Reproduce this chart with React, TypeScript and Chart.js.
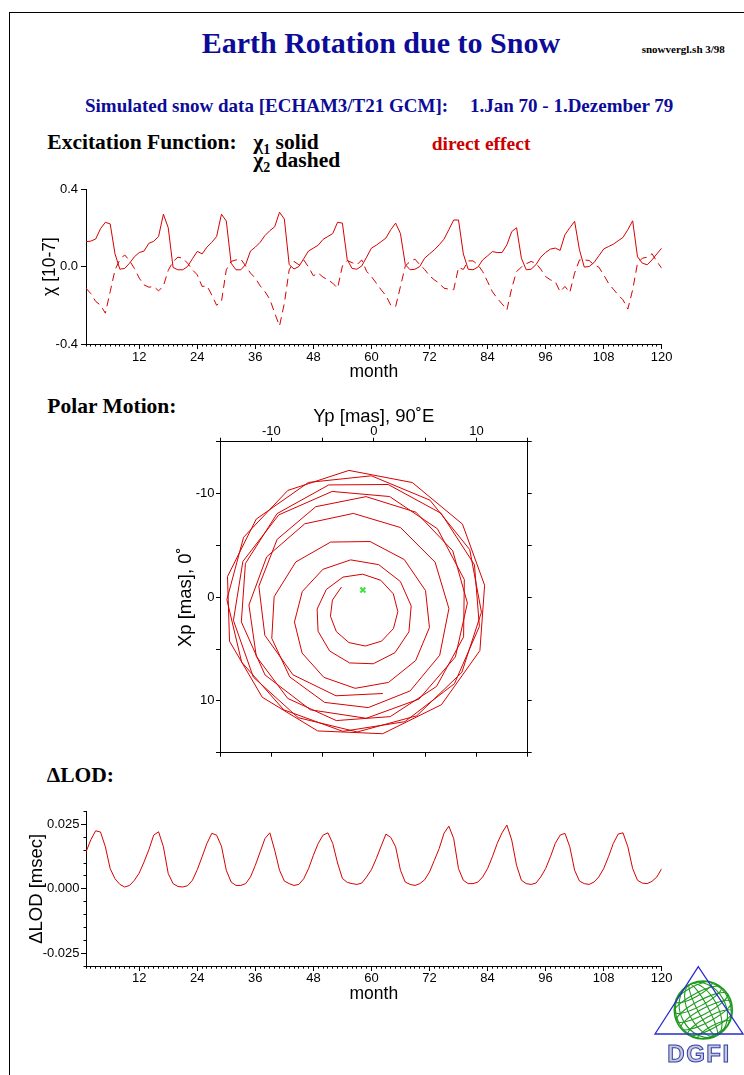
import React, { useEffect, useRef } from 'react';
import { Chart, registerables } from 'chart.js';

Chart.register(...registerables);

const FONT_SANS = "'Liberation Sans', Arial, Helvetica, sans-serif";
const FONT_SERIF = "'Liberation Serif', 'Times New Roman', Times, serif";
const RED = 'rgb(214,0,0)';
const NAVY = '#0c0c98';

// ---------- data ----------
const months = Array.from({ length: 120 }, (_, i) => i + 1);
const monthLabelTicks = [12, 24, 36, 48, 60, 72, 84, 96, 108, 120];
const chiLabelTicks = [-0.4, 0, 0.4];
const lodLabelTicks = [-0.025, 0, 0.025];
const polarLabelTicks = [-10, 0, 10];

// chi1 (solid), 10^-7
const chi1 = [
  0.128, 0.131, 0.142, 0.195, 0.228, 0.220, 0.065, -0.014, -0.010, 0.017, 0.050, 0.072,
  0.080, 0.120, 0.130, 0.155, 0.270, 0.200, -0.005, -0.017, -0.017, 0.000, 0.040, 0.078,
  0.065, 0.100, 0.125, 0.155, 0.270, 0.235, 0.017, -0.017, -0.017, 0.010, 0.080, 0.100,
  0.125, 0.160, 0.185, 0.205, 0.280, 0.245, 0.010, -0.013, 0.000, 0.040, 0.080, 0.095,
  0.110, 0.140, 0.155, 0.170, 0.228, 0.224, 0.035, -0.010, -0.014, 0.003, 0.048, 0.095,
  0.110, 0.128, 0.147, 0.190, 0.224, 0.170, 0.010, -0.017, -0.014, 0.000, 0.043, 0.065,
  0.086, 0.112, 0.141, 0.190, 0.240, 0.240, 0.065, -0.014, -0.017, -0.003, 0.034, 0.055,
  0.077, 0.072, 0.072, 0.112, 0.180, 0.200, 0.043, -0.017, -0.014, 0.009, 0.048, 0.072,
  0.090, 0.095, 0.083, 0.164, 0.200, 0.233, 0.086, -0.003, 0.000, 0.020, 0.055, 0.090,
  0.103, 0.115, 0.133, 0.150, 0.190, 0.236, 0.050, 0.017, 0.009, 0.034, 0.065, 0.095,
];

// chi2 (dashed), 10^-7
const chi2 = [
  -0.112, -0.140, -0.180, -0.200, -0.241, -0.130, -0.017, 0.035, 0.060, 0.030, -0.010, -0.060,
  -0.095, -0.107, -0.103, -0.126, -0.100, -0.020, 0.026, 0.048, 0.043, 0.017, -0.017, -0.043,
  -0.103, -0.100, -0.147, -0.200, -0.181, -0.017, 0.026, 0.034, 0.038, 0.003, -0.034, -0.060,
  -0.100, -0.130, -0.169, -0.240, -0.307, -0.190, -0.017, 0.026, 0.009, 0.034, -0.003, -0.048,
  -0.034, -0.055, -0.069, -0.086, -0.112, 0.003, 0.031, 0.020, 0.009, 0.034, -0.025, -0.052,
  -0.086, -0.120, -0.150, -0.200, -0.207, -0.103, 0.003, 0.026, 0.038, 0.009, -0.015, -0.048,
  -0.069, -0.086, -0.112, -0.117, -0.120, -0.005, -0.015, 0.029, 0.029, 0.009, -0.026, -0.078,
  -0.130, -0.164, -0.193, -0.224, -0.112, -0.026, -0.003, 0.014, 0.026, 0.017, -0.014, -0.052,
  -0.069, -0.078, -0.130, -0.103, -0.134, -0.034, 0.034, 0.034, 0.031, 0.009, -0.003, -0.043,
  -0.086, -0.117, -0.147, -0.172, -0.220, -0.120, 0.017, 0.043, 0.048, 0.066, 0.026, -0.009,
];

// delta LOD, msec
const dLOD = [
  0.0143, 0.0190, 0.0225, 0.0220, 0.0163, 0.0078, 0.0039, 0.0017, 0.0007, 0.0013, 0.0033, 0.0061,
  0.0104, 0.0152, 0.0208, 0.0221, 0.0163, 0.0059, 0.0020, 0.0009, 0.0007, 0.0012, 0.0033, 0.0074,
  0.0124, 0.0176, 0.0215, 0.0208, 0.0165, 0.0072, 0.0026, 0.0013, 0.0013, 0.0020, 0.0046, 0.0091,
  0.0143, 0.0195, 0.0217, 0.0150, 0.0072, 0.0030, 0.0020, 0.0013, 0.0017, 0.0039, 0.0078, 0.0130,
  0.0176, 0.0208, 0.0217, 0.0176, 0.0100, 0.0040, 0.0025, 0.0020, 0.0017, 0.0022, 0.0046, 0.0074,
  0.0117, 0.0165, 0.0212, 0.0199, 0.0163, 0.0072, 0.0026, 0.0017, 0.0013, 0.0020, 0.0035, 0.0065,
  0.0110, 0.0156, 0.0215, 0.0243, 0.0195, 0.0078, 0.0033, 0.0020, 0.0020, 0.0026, 0.0046, 0.0078,
  0.0124, 0.0176, 0.0217, 0.0247, 0.0189, 0.0091, 0.0033, 0.0020, 0.0017, 0.0022, 0.0046, 0.0078,
  0.0124, 0.0176, 0.0208, 0.0215, 0.0163, 0.0072, 0.0030, 0.0020, 0.0017, 0.0026, 0.0046, 0.0078,
  0.0124, 0.0176, 0.0212, 0.0217, 0.0163, 0.0078, 0.0033, 0.0022, 0.0020, 0.0029, 0.0046, 0.0078,
];

// polar motion path, mas (Yp horizontal, Xp vertical downward)
const polarYp = [
  -3.16, -4.04, -4.23, -3.65, -2.43, -0.84, 0.75, 1.91, 2.34, 1.90, 0.68, -1.09,
  -3.01, -4.63, -5.53, -5.44, -4.31, -2.37, -0.05, 2.06, 3.42, 3.64, 2.59, 0.47,
  -2.26, -4.97, -6.98, -7.74, -7.00, -4.88, -1.82, 1.43, 4.08, 5.42, 5.04, 2.97,
  -0.37, -4.21, -7.61, -9.72, -9.95, -8.20, -4.80, -0.54, 3.54, 6.42, 7.32, 5.97,
  2.60, -2.0, -6.74, -10.45, -12.18, -11.46, -8.39, -3.66, 1.60, 6.11, 8.75, 8.82,
  6.20, 1.54, -4.07, -9.27, -12.77, -13.69, -11.75, -7.38, -1.62, 4.18, 8.58, 10.49,
  9.35, 5.47, -0.24, -6.38, -11.47, -14.27, -14.07, -10.88, -5.48, 0.86, 6.59, 10.34,
  10.80, 8.64, 3.75, -2.43, -8.39, -12.70, -14.33, -12.89, -8.79, -3.02, 3.02, 7.86,
  10.29, 9.81, 6.56, 1.40, -4.40, -9.44, -12.52, -12.92, -10.61, -6.19, -0.74, 4.40,
  7.95, 9.12, 7.69, 4.10, -0.76, -5.66, -9.43, -11.21, -10.63, -7.88, -3.69, 0.88,
];
const polarXp = [
  -0.98, 0.28, 1.84, 3.33, 4.38, 4.71, 4.24, 3.03, 1.39, -0.32, -1.63, -2.22,
  -1.94, -0.75, 1.14, 3.28, 5.19, 6.34, 6.42, 5.35, 3.34, 0.84, -1.51, -3.14,
  -3.60, -2.69, -0.54, 2.39, 5.38, 7.73, 8.79, 8.22, 6.11, 2.92, -0.63, -3.63,
  -5.37, -5.32, -3.40, -0.05, 3.97, 7.69, 10.15, 10.65, 9.04, 5.60, 1.10, -3.38,
  -6.72, -8.08, -7.08, -3.89, 0.75, 5.71, 9.77, 11.90, 11.52, 8.61, 3.83, -1.70,
  -6.60, -9.71, -10.20, -7.94, -3.45, 2.24, 7.71, 11.62, 13.0, 11.44, 7.25, 1.44,
  -4.59, -9.36, -11.71, -11.07, -7.53, -1.99, 4.25, 9.65, 12.90, 13.17, 10.37, 5.15,
  -1.15, -7.05, -11.06, -12.23, -10.30, -5.78, 0.23, 6.26, 10.86, 12.94, 12.01, 8.34,
  2.82, -3.13, -8.09, -10.87, -10.83, -8.06, -3.25, 2.38, 7.50, 10.86, 11.68, 9.83,
  5.76, 0.57, -4.48, -8.20, -9.70, -8.73, -5.58, -1.06, 3.67, 7.49, 9.51, 9.29,
];
const markerYp = [-1.07];
const markerXp = [-0.7];

// ---------- helpers ----------
const isLabel = (list: number[], v: number) => list.some((t) => Math.abs(t - v) < 1e-9);

const majorTickPlugin = {
  id: 'majorTicks',
  afterDraw(chart: any, _args: any, opts: any) {
    const items = (opts && opts.items) || [];
    const ctx = chart.ctx;
    ctx.save();
    ctx.strokeStyle = '#000';
    ctx.lineWidth = 1;
    for (const it of items) {
      const s = chart.scales[it.axis];
      if (!s) continue;
      for (const v of it.values) {
        const p = Math.round(s.getPixelForValue(v) - 0.5) + 0.5;
        ctx.beginPath();
        if (s.isHorizontal()) {
          const y0 = Math.round(s.top);
          ctx.moveTo(p, y0);
          ctx.lineTo(p, y0 + it.len);
        } else {
          const x0 = Math.round(s.right);
          ctx.moveTo(x0, p);
          ctx.lineTo(x0 - it.len, p);
        }
        ctx.stroke();
      }
    }
    ctx.restore();
  },
};

const border = { display: true, color: '#000', width: 1 };
const tickFont = { family: FONT_SANS, size: 13 };

function monthAxis(labelPad: number, titlePadBottom: number) {
  return {
    type: 'linear',
    min: 1,
    max: 120,
    afterFit: (s: any) => {
      s.height = 40;
    },
    border,
    grid: { display: true, drawOnChartArea: false, drawTicks: true, tickLength: 2.5, tickColor: '#000', tickWidth: 1 },
    ticks: {
      stepSize: 1,
      autoSkip: false,
      maxRotation: 0,
      padding: labelPad,
      color: '#000',
      font: tickFont,
      callback: (v: any) => (isLabel(monthLabelTicks, Number(v)) ? String(Math.round(Number(v))) : ''),
    },
    title: {
      display: true,
      text: 'month',
      color: '#000',
      font: { family: FONT_SANS, size: 17.5 },
      padding: { top: 0, bottom: titlePadBottom },
    },
  };
}

function chiConfig(): any {
  return {
    type: 'line',
    data: {
      datasets: [
        {
          data: months.map((m, i) => ({ x: m, y: chi1[i] })),
          borderColor: RED,
          borderWidth: 1,
          pointRadius: 0,
          tension: 0,
          fill: false,
        },
        {
          data: months.map((m, i) => ({ x: m, y: chi2[i] })),
          borderColor: RED,
          borderWidth: 1,
          borderDash: [8, 5],
          pointRadius: 0,
          tension: 0,
          fill: false,
        },
      ],
    },
    options: {
      responsive: false,
      animation: false,
      devicePixelRatio: 1,
      layout: { padding: { left: 36, right: 38.3, top: 19, bottom: 2 } },
      plugins: {
        legend: { display: false },
        tooltip: { enabled: false },
        majorTicks: { items: [{ axis: 'x', values: monthLabelTicks, len: 5 }] },
      },
      scales: {
        x: monthAxis(3, 1),
        y: {
          type: 'linear',
          min: -0.4,
          max: 0.4,
          afterFit: (s: any) => {
            s.width = 50;
          },
          border,
          grid: { display: true, drawOnChartArea: false, drawTicks: true, tickLength: 5, tickColor: '#000' },
          ticks: {
            stepSize: 0.4,
            padding: 3,
            color: '#000',
            font: tickFont,
            callback: (v: any) => (isLabel(chiLabelTicks, Number(v)) ? Number(v).toFixed(1) : ''),
          },
          title: {
            display: true,
            text: 'χ [10-7]',
            color: '#000',
            font: { family: FONT_SANS, size: 17.5 },
            padding: { top: 4, bottom: 0 },
          },
        },
      },
    },
    plugins: [majorTickPlugin],
  };
}

function lodConfig(): any {
  return {
    type: 'line',
    data: {
      datasets: [
        {
          data: months.map((m, i) => ({ x: m, y: dLOD[i] })),
          borderColor: RED,
          borderWidth: 1,
          pointRadius: 0,
          tension: 0,
          fill: false,
        },
      ],
    },
    options: {
      responsive: false,
      animation: false,
      devicePixelRatio: 1,
      layout: { padding: { left: 21.4, right: 38.3, top: 16.4, bottom: 1.8 } },
      plugins: {
        legend: { display: false },
        tooltip: { enabled: false },
        majorTicks: {
          items: [
            { axis: 'x', values: monthLabelTicks, len: 5 },
            { axis: 'y', values: lodLabelTicks, len: 5 },
          ],
        },
      },
      scales: {
        x: monthAxis(1.5, 1.7),
        y: {
          type: 'linear',
          min: -0.03,
          max: 0.03,
          afterFit: (s: any) => {
            s.width = 64.6;
          },
          border,
          grid: { display: true, drawOnChartArea: false, drawTicks: true, tickLength: 2.5, tickColor: '#000' },
          ticks: {
            stepSize: 0.005,
            autoSkip: false,
            padding: 4,
            color: '#000',
            font: tickFont,
            callback: (v: any) => (isLabel(lodLabelTicks, Number(v)) ? Number(v).toFixed(3) : ''),
          },
          title: {
            display: true,
            text: 'ΔLOD [msec]',
            color: '#000',
            font: { family: FONT_SANS, size: 18.5 },
            padding: { top: 4, bottom: 0 },
          },
        },
      },
    },
    plugins: [majorTickPlugin],
  };
}

function polarAxis(position: string, size: number, showLabels: boolean, title: string | null, reverse: boolean, pad: number): any {
  const horizontal = position === 'top' || position === 'bottom';
  return {
    type: 'linear',
    position,
    min: -15,
    max: 15,
    reverse,
    afterFit: (s: any) => {
      if (horizontal) s.height = size;
      else s.width = size;
    },
    border,
    grid: { display: true, drawOnChartArea: false, drawTicks: true, tickLength: 4, tickColor: '#000' },
    ticks: {
      display: showLabels,
      stepSize: 5,
      autoSkip: false,
      maxRotation: 0,
      padding: pad,
      color: '#000',
      font: tickFont,
      callback: (v: any) => (isLabel(polarLabelTicks, Number(v)) ? String(Math.round(Number(v))) : ''),
    },
    title: title
      ? {
          display: true,
          text: title,
          color: '#000',
          font: { family: FONT_SANS, size: 18.5 },
          padding: { top: 4, bottom: 0 },
        }
      : { display: false },
  };
}

function polarConfig(): any {
  return {
    type: 'scatter',
    data: {
      datasets: [
        {
          data: polarYp.map((x, i) => ({ x, y: polarXp[i] })),
          showLine: true,
          borderColor: RED,
          borderWidth: 1,
          pointRadius: 0,
          tension: 0,
          xAxisID: 'x',
          yAxisID: 'y',
        },
        {
          data: markerYp.map((x, i) => ({ x, y: markerXp[i] })),
          showLine: false,
          pointStyle: 'crossRot',
          pointRadius: 3.5,
          borderColor: '#3ee23e',
          backgroundColor: '#3ee23e',
          borderWidth: 2,
          xAxisID: 'x',
          yAxisID: 'y',
        },
      ],
    },
    options: {
      responsive: false,
      animation: false,
      devicePixelRatio: 1,
      layout: { padding: { left: 20.4, right: 18.3, top: 6.9, bottom: 13.3 } },
      plugins: { legend: { display: false }, tooltip: { enabled: false } },
      scales: {
        x: polarAxis('top', 39.8, true, 'Yp [mas], 90˚E', false, -1.5),
        y: polarAxis('left', 49.6, true, 'Xp [mas], 0˚', true, 1.5),
        x2: polarAxis('bottom', 4, false, null, false, 0),
        y2: polarAxis('right', 4, false, null, true, 0),
      },
    },
  };
}

function ChartCanvas(props: { left: number; top: number; width: number; height: number; build: () => any }) {
  const ref = useRef<HTMLCanvasElement>(null);
  useEffect(() => {
    const chart = new Chart(ref.current as HTMLCanvasElement, props.build());
    return () => chart.destroy();
  }, []);
  return (
    <canvas
      ref={ref}
      width={props.width}
      height={props.height}
      style={{ position: 'absolute', left: props.left, top: props.top, width: props.width, height: props.height }}
    />
  );
}

function Txt(props: { left: number; top: number; size: number; color?: string; children: any }) {
  return (
    <div
      style={{
        position: 'absolute',
        left: props.left,
        top: props.top,
        fontFamily: FONT_SERIF,
        fontWeight: 'bold',
        fontSize: props.size,
        lineHeight: 1,
        color: props.color || '#000',
        whiteSpace: 'nowrap',
      }}
    >
      {props.children}
    </div>
  );
}

function Logo() {
  const meridians = [0.18, 0.5, 0.78, 0.95];
  const parallels = [-0.7, -0.4, -0.1, 0.2, 0.5, 0.78];
  const R = 29;
  return (
    <svg width={94} height={115} style={{ position: 'absolute', left: 650, top: 960 }}>
      <defs>
        <clipPath id="globeclip">
          <circle cx={53.3} cy={50} r={R} />
        </clipPath>
      </defs>
      <g clipPath="url(#globeclip)" transform="rotate(-28 53.3 50)" stroke="#1f9a1f" strokeWidth={1.1} fill="none">
        {meridians.map((f, i) => (
          <ellipse key={'m' + i} cx={53.3} cy={50} rx={R * f} ry={R} />
        ))}
        {parallels.map((h, i) => (
          <ellipse key={'p' + i} cx={53.3} cy={50 + h * R} rx={R * Math.sqrt(1 - h * h)} ry={R * 0.25 * Math.sqrt(1 - h * h)} />
        ))}
      </g>
      <circle cx={53.3} cy={50} r={R} stroke="#1f9a1f" strokeWidth={1.6} fill="none" />
      <polygon points="48.3,6.7 5,74 93,74" fill="none" stroke="#2b2bd0" strokeWidth={1.3} />
      <text
        x={49}
        y={102}
        textAnchor="middle"
        fontFamily={FONT_SANS}
        fontWeight="bold"
        fontSize={24}
        letterSpacing={1.5}
        fill="#c9c9d4"
        stroke="#3040b0"
        strokeWidth={1}
      >
        DGFI
      </text>
    </svg>
  );
}

export default function App() {
  return (
    <div
      style={{
        position: 'absolute',
        left: 0,
        top: 0,
        width: 744,
        height: 1075,
        background: '#fff',
        overflow: 'hidden',
      }}
    >
      <div style={{ position: 'absolute', left: 9, top: 12, width: 735, height: 1, background: '#000' }} />
      <div style={{ position: 'absolute', left: 9, top: 12, width: 1, height: 1063, background: '#000' }} />

      <Txt left={201.7} top={28.2} size={30} color={NAVY}>
        Earth Rotation due to Snow
      </Txt>
      <Txt left={641.7} top={43.5} size={11}>
        snowvergl.sh 3/98
      </Txt>
      <Txt left={85} top={95.8} size={19} color={NAVY}>
        Simulated snow data [ECHAM3/T21 GCM]:
      </Txt>
      <Txt left={470} top={95.8} size={19} color={NAVY}>
        1.Jan 70 - 1.Dezember 79
      </Txt>
      <Txt left={47.3} top={132} size={21.5}>
        Excitation Function:
      </Txt>
      <Txt left={253.3} top={132} size={21.5}>
        χ<span style={{ fontSize: 14, position: 'relative', top: 5 }}>1</span> solid
      </Txt>
      <Txt left={253.3} top={150.3} size={21.5}>
        χ<span style={{ fontSize: 14, position: 'relative', top: 5 }}>2</span> dashed
      </Txt>
      <Txt left={431.7} top={133.7} size={19.5} color="rgb(205,0,0)">
        direct effect
      </Txt>
      <Txt left={47.3} top={396} size={21.5}>
        Polar Motion:
      </Txt>
      <Txt left={46.7} top={765.3} size={21.5}>
        ΔLOD:
      </Txt>

      <ChartCanvas left={0} top={170} width={700} height={216} build={chiConfig} />
      <ChartCanvas left={150} top={395} width={400} height={375} build={polarConfig} />
      <ChartCanvas left={0} top={795} width={700} height={213} build={lodConfig} />

      <Logo />
    </div>
  );
}
